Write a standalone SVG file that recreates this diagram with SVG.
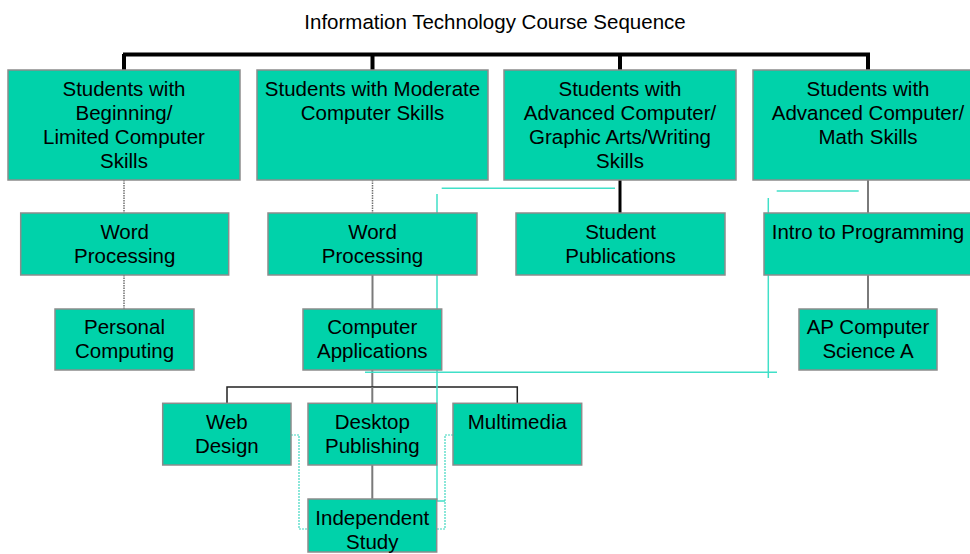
<svg xmlns="http://www.w3.org/2000/svg" width="970" height="554" viewBox="0 0 970 554">
  <style>
    .box { fill: #00D2AA; stroke: #8C8C8C; stroke-width: 1.5; }
    .t { font-family: "Liberation Sans", Arial, sans-serif; font-size: 20.5px; fill: #000; text-anchor: middle; }
    .bar { stroke: #000; stroke-width: 4; fill: none; }
    .dot { stroke: #707070; stroke-width: 1.5; stroke-dasharray: 1.5 1; fill: none; }
    .gray { stroke: #7A7A7A; stroke-width: 2; fill: none; }
    .thin { stroke: #222; stroke-width: 1.5; fill: none; }
    .cyan { stroke: #40E0C8; stroke-width: 1.5; fill: none; }
    .cdot { stroke: #40D8C0; stroke-width: 1.2; stroke-dasharray: 2 1; fill: none; }
  </style>
  <rect width="970" height="554" fill="#fff"/>

  <text class="t" x="495" y="29">Information Technology Course Sequence</text>

  <!-- connectors -->
  <g id="connectors">
    <!-- top bar and drops -->
    <path class="bar" d="M123 54.5 H870 M124 54 V70 M372.5 54 V70 M620 54 V70 M868 54 V70"/>
    <!-- column 1 -->
    <path class="dot" d="M124 180 V213 M124 275 V309"/>
    <!-- column 2 -->
    <path class="dot" d="M372.5 180 V213"/>
    <path class="gray" d="M372.5 275 V309"/>
    <!-- column 3 -->
    <path d="M620 180 V213" stroke="#000" stroke-width="3" fill="none"/>
    <!-- column 4 -->
    <path class="gray" d="M868 180 V213 M868 275 V309"/>
    <!-- electives -->
    <path class="gray" d="M372.3 370 V387" stroke="#444"/>
    <path class="thin" d="M227 403 V387 H517.3 V403"/>
    <path class="gray" d="M372.3 387 V403 M372.3 465 V499"/>
    <!-- cross links -->
    <path class="cyan" d="M441.7 188.3 H615"/>
    <path class="cyan" d="M437 194 V501 H445"/>
    <path class="cyan" d="M776.7 191 H858.7"/>
    <path class="cyan" d="M768.3 198 V378"/>
    <path class="cyan" d="M365 372.3 H777"/>
    <path class="cdot" d="M291 435 H299 V529 H308"/>
    <path class="cdot" d="M453 435 H445 V529 H437"/>
  </g>

  <!-- top row -->
  <g id="beginning">
    <rect class="box" x="8" y="70" width="232" height="110"/>
    <text class="t" x="124" y="96">Students with</text>
    <text class="t" x="124" y="120">Beginning/</text>
    <text class="t" x="124" y="144">Limited Computer</text>
    <text class="t" x="124" y="168">Skills</text>
  </g>
  <g id="moderate">
    <rect class="box" x="257" y="70" width="231" height="110"/>
    <text class="t" x="372.5" y="96">Students with Moderate</text>
    <text class="t" x="372.5" y="120">Computer Skills</text>
  </g>
  <g id="advanced-arts">
    <rect class="box" x="504" y="70" width="232" height="110"/>
    <text class="t" x="620" y="96">Students with</text>
    <text class="t" x="620" y="120">Advanced Computer/</text>
    <text class="t" x="620" y="144">Graphic Arts/Writing</text>
    <text class="t" x="620" y="168">Skills</text>
  </g>
  <g id="advanced-math">
    <rect class="box" x="753" y="70" width="231" height="110"/>
    <text class="t" x="868" y="96">Students with</text>
    <text class="t" x="868" y="120">Advanced Computer/</text>
    <text class="t" x="868" y="144">Math Skills</text>
  </g>

  <!-- second row -->
  <g id="word-processing-1">
    <rect class="box" x="20.7" y="213" width="208" height="62"/>
    <text class="t" x="124.7" y="239">Word</text>
    <text class="t" x="124.7" y="263">Processing</text>
  </g>
  <g id="word-processing-2">
    <rect class="box" x="268" y="213" width="209" height="62"/>
    <text class="t" x="372.5" y="239">Word</text>
    <text class="t" x="372.5" y="263">Processing</text>
  </g>
  <g id="student-publications">
    <rect class="box" x="516" y="213" width="209" height="62"/>
    <text class="t" x="620.5" y="239">Student</text>
    <text class="t" x="620.5" y="263">Publications</text>
  </g>
  <g id="intro-programming">
    <rect class="box" x="764" y="213" width="208" height="62"/>
    <text class="t" x="868" y="239">Intro to Programming</text>
  </g>

  <!-- third row -->
  <g id="personal-computing">
    <rect class="box" x="55" y="309" width="139" height="61"/>
    <text class="t" x="124.5" y="334">Personal</text>
    <text class="t" x="124.5" y="358">Computing</text>
  </g>
  <g id="computer-applications">
    <rect class="box" x="303" y="309" width="138.7" height="61"/>
    <text class="t" x="372.3" y="334">Computer</text>
    <text class="t" x="372.3" y="358">Applications</text>
  </g>
  <g id="ap-cs">
    <rect class="box" x="799" y="309" width="138" height="61"/>
    <text class="t" x="868" y="334">AP Computer</text>
    <text class="t" x="868" y="358">Science A</text>
  </g>

  <!-- electives -->
  <g id="web-design">
    <rect class="box" x="162.7" y="403.3" width="128.3" height="61.7"/>
    <text class="t" x="226.8" y="429">Web</text>
    <text class="t" x="226.8" y="453">Design</text>
  </g>
  <g id="desktop-publishing">
    <rect class="box" x="308" y="403.3" width="128.7" height="61.7"/>
    <text class="t" x="372.3" y="429">Desktop</text>
    <text class="t" x="372.3" y="453">Publishing</text>
  </g>
  <g id="multimedia">
    <rect class="box" x="453" y="403.3" width="128.7" height="61.7"/>
    <text class="t" x="517.3" y="429">Multimedia</text>
  </g>
  <g id="independent-study">
    <rect class="box" x="308" y="499" width="128.7" height="53"/>
    <text class="t" x="372.3" y="525">Independent</text>
    <text class="t" x="372.3" y="549">Study</text>
  </g>
</svg>
